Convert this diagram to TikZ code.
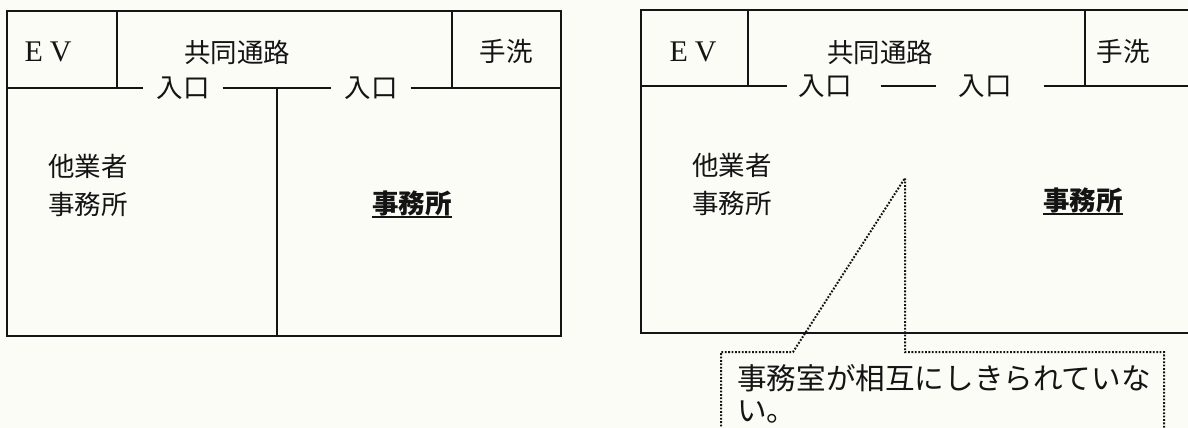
\documentclass[tikz,border=0pt]{standalone}
\usepackage{fontspec}
\newfontfamily\jp{Noto Sans CJK JP}
\newfontfamily\evfont{Liberation Serif}
\definecolor{paper}{RGB}{252,252,246}
\definecolor{ink}{RGB}{20,20,20}
\begin{document}
\begin{tikzpicture}[x=1pt,y=-1pt,
  wall/.style={line width=2.4pt, draw=ink},
  lbl/.style={font=\jp\fontsize{26.5}{30}\selectfont, text=ink, inner sep=0pt},
  boldlbl/.style={font=\jp\bfseries\fontsize{26.5}{30}\selectfont, text=ink, inner sep=0pt},
  evlbl/.style={font=\evfont\fontsize{30}{34}\selectfont, text=ink, inner sep=0pt},
  note/.style={font=\jp\fontsize{29.6}{32}\selectfont, text=ink, inner sep=0pt, align=left},
  dots/.style={line width=2pt, draw=ink, dash pattern=on 1.8pt off 1.6pt}]
\useasboundingbox (0,0) rectangle (1188,428);
\fill[paper] (0,0) rectangle (1188,428);
\clip (0,0) rectangle (1188,428);

% ---------------- left plan ----------------
\draw[wall] (7,11) rectangle (561,336);
\draw[wall] (117,11) -- (117,88);
\draw[wall] (452,11) -- (452,88);
\node[lbl] (Lin1) at (183,88) {入口};
\node[lbl] (Lin2) at (371,88) {入口};
\draw[wall] (7,88) -- ([xshift=-13pt]Lin1.west);
\draw[wall] ([xshift=13pt]Lin1.east) -- ([xshift=-13pt]Lin2.west);
\draw[wall] ([xshift=13pt]Lin2.east) -- (561,88);
\draw[wall] (277,88) -- (277,336);
\node[evlbl] (Lev) at (48,52) {E\hspace{7pt}V};
\node[lbl] (Lcorr) at (237,52) {共同通路};
\node[lbl] (Lwash) at (506,51) {手洗};
\node[lbl, anchor=west] (Lother1) at (48,166) {他業者};
\node[lbl, anchor=west] (Lother2) at (48,204) {事務所};
\node[boldlbl] (Loffice) at (412,203) {事務所};
\draw[line width=1.6pt, draw=ink] ([yshift=-1pt]Loffice.south west) -- ([yshift=-1pt]Loffice.south east);

% ---------------- right plan ----------------
\draw[wall] (1200,10) -- (641,10) -- (641,333) -- (1200,333);
\draw[wall] (748,10) -- (748,86);
\draw[wall] (1085,10) -- (1085,86);
\node[lbl] (Rin1) at (825,86) {入口};
\node[lbl] (Rin2) at (985,86) {入口};
\draw[wall] (641,86) -- ([xshift=-11pt]Rin1.west);
\draw[wall] ([xshift=29pt]Rin1.east) -- ([xshift=-22pt]Rin2.west);
\draw[wall] ([xshift=32pt]Rin2.east) -- (1200,86);
\node[evlbl] (Rev) at (693,52) {E\hspace{7pt}V};
\node[lbl] (Rcorr) at (880,52) {共同通路};
\node[lbl] (Rwash) at (1123,51) {手洗};
\node[lbl, anchor=west] (Rother1) at (692,165) {他業者};
\node[lbl, anchor=west] (Rother2) at (692,203) {事務所};
\node[boldlbl] (Roffice) at (1083,200) {事務所};
\draw[line width=1.6pt, draw=ink] ([yshift=-1pt]Roffice.south west) -- ([yshift=-1pt]Roffice.south east);

% ---------------- callout ----------------
\coordinate (apex) at (905,178);
\coordinate (boxbl) at (721,440);
\coordinate (boxbr) at (1164,440);
\node[note, anchor=base west] (notetext) at (737,421) {事務室が相互にしきられていな\\い。};
\draw[dots] (boxbl) -- (721,352) -- (793,352) -- (apex) -- (905,352) -- (1164,352) -- (boxbr);
\end{tikzpicture}
\end{document}
